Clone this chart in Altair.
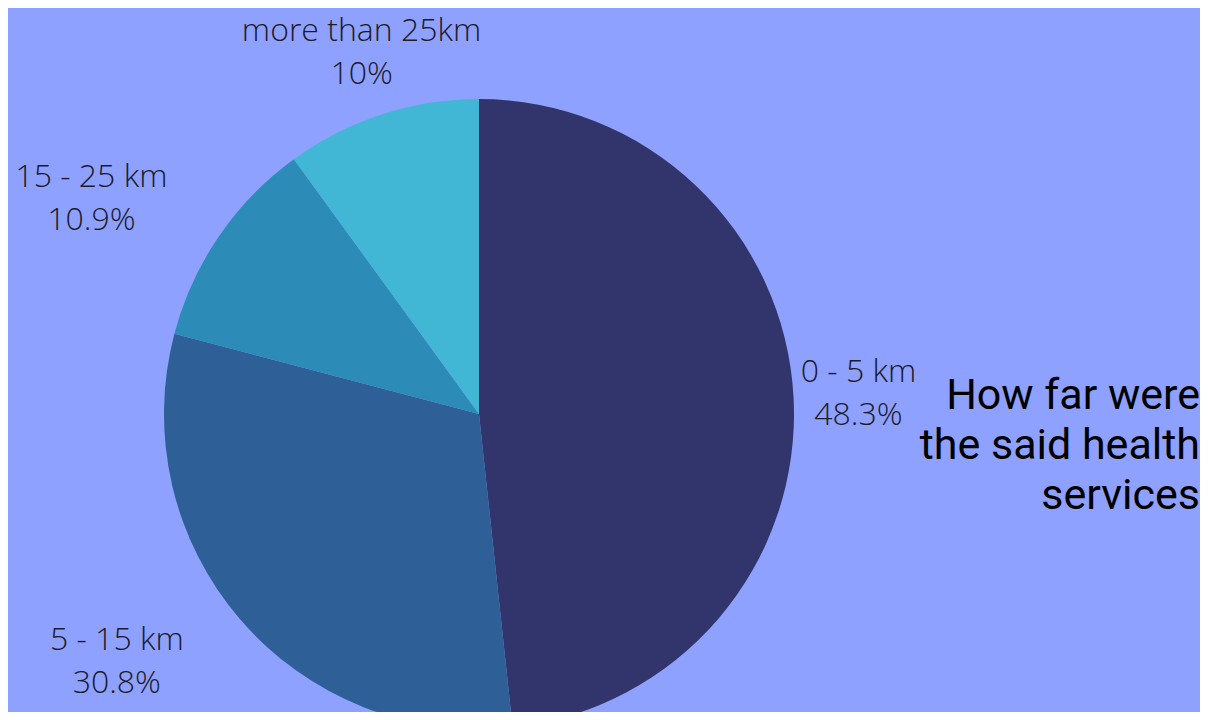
import altair as alt
import pandas as pd

categories = ["0 - 5 km", "5 - 15 km", "15 - 25 km", "more than 25km"]
values = [48.3, 30.8, 10.9, 10]
colors = ["#31356b", "#2e5f97", "#2d8bb7", "#42b7d5"]
title_lines = ["How far were", "the said health", "services"]

df = pd.DataFrame({"category": categories, "value": values, "order": list(range(len(categories)))})

CX, CY = 471, 406
theta_scale = alt.Scale(domain=[0, 100])

base = alt.Chart(df).transform_window(
    cum="sum(value)", sort=[alt.SortField("order")], frame=[None, 0]
).transform_calculate(
    mid="datum.cum - datum.value / 2",
    label="datum.category + '\\n' + datum.value + '%'",
)

pie = alt.Chart(df).mark_arc(outerRadius=315).encode(
    theta=alt.Theta("value:Q", stack=True, scale=theta_scale),
    color=alt.Color("category:N", scale=alt.Scale(domain=categories, range=colors), legend=None),
    order=alt.Order("order:Q"),
    x=alt.value(CX),
    y=alt.value(CY),
)

label_style = dict(radius=380, font="Open Sans", fontWeight=300, fontSize=32,
                   lineHeight=43, lineBreak="\n", align="center", baseline="middle",
                   color="#1b1b2d", dy=-22)

labels_main = base.transform_filter("datum.mid <= 50 || datum.mid >= 90").mark_text(**label_style).encode(
    theta=alt.Theta("mid:Q", stack=None, scale=theta_scale),
    text="label:N",
    x=alt.value(CX),
    y=alt.value(CY),
)

labels_left = base.transform_filter("datum.mid > 50 && datum.mid < 90").mark_text(dx=-74, **label_style).encode(
    theta=alt.Theta("mid:Q", stack=None, scale=theta_scale),
    text="label:N",
    x=alt.value(CX),
    y=alt.value(CY),
)

title = alt.Chart(pd.DataFrame({"t": [0]})).mark_text(
    font="Roboto", fontSize=43, lineHeight=50, align="right", baseline="middle", color="#000000"
).encode(
    x=alt.value(1192),
    y=alt.value(388),
    text=alt.value(title_lines),
)

chart = alt.layer(pie, labels_main, labels_left, title).properties(
    width=1192, height=704, padding=0, autosize="none", background="#8fa1fe"
).configure_view(stroke=None)

chart.save("out.html", embed_options={"renderer": "svg", "actions": False})
